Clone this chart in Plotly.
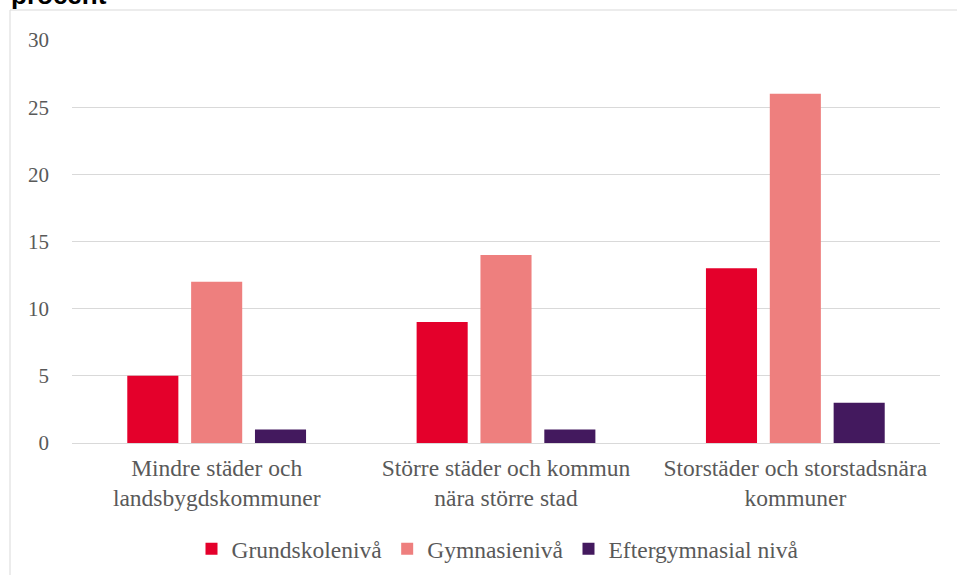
import plotly.graph_objects as go

categories = ["Mindre städer och<br>landsbygdskommuner",
              "Större städer och kommun<br>nära större stad",
              "Storstäder och storstadsnära<br>kommuner"]
series_names = ["Grundskolenivå", "Gymnasienivå", "Eftergymnasial nivå"]
grund = [5, 9, 13]
gymn = [12, 14, 26]
efter = [1, 1, 3]
colors = ["#E4002B", "#EE7F7E", "#43195E"]
y_ticks = [0, 5, 10, 15, 20, 25, 30]

W, H = 957, 575
L, R, T, B = 72, 17, 40, 132
pw, ph = W - L - R, H - T - B

def px(x):
    return (x - L) / pw

def py(y):
    return (H - B - y) / ph

fig = go.Figure()
for name, vals, c in zip(series_names, [grund, gymn, efter], colors):
    fig.add_trace(go.Bar(name=name, x=categories, y=vals, marker_color=c,
                         marker_line_width=0))

serif = "Liberation Serif, Times New Roman, serif"
fig.update_layout(
    width=W, height=H,
    margin=dict(l=L, r=R, t=T, b=B, autoexpand=False),
    paper_bgcolor="white", plot_bgcolor="white",
    barmode="group", bargap=0.338, bargroupgap=0.2,
    font=dict(family=serif, color="#595959", size=23),
    showlegend=True,
    legend=dict(orientation="h", x=px(498), xanchor="center", y=py(549), yanchor="middle",
                font=dict(family=serif, size=23.5, color="#595959"),
                itemwidth=30, tracegroupgap=0),
    xaxis=dict(showgrid=False, showline=False, ticks="", ticklabelstandoff=8,
               tickfont=dict(family=serif, size=23.5, color="#595959")),
    yaxis=dict(range=[0, 30], tickvals=y_ticks, showgrid=True, gridcolor="#D9D9D9",
               gridwidth=1, zeroline=True, zerolinecolor="#D9D9D9", zerolinewidth=1,
               showline=False, ticks="", ticklabelstandoff=22,
               tickfont=dict(family=serif, size=21, color="#595959")),
)

fig.add_annotation(text="<b>procent</b>", xref="paper", yref="paper",
                   x=px(9), y=py(5), xanchor="left", yanchor="middle",
                   yshift=10, showarrow=False,
                   font=dict(family="Liberation Sans, Arial, sans-serif", size=26, color="black"))

fig.add_shape(type="line", xref="paper", yref="paper",
              x0=px(10), x1=px(10), y0=py(10), y1=py(600),
              line=dict(color="#D9D9D9", width=1))
fig.add_shape(type="line", xref="paper", yref="paper",
              x0=px(10), x1=px(1000), y0=py(10), y1=py(10),
              line=dict(color="#D9D9D9", width=1))

fig.write_html("out.html", config={"displayModeBar": False},
               post_script="document.body.style.margin='0';document.body.style.overflow='hidden';")
